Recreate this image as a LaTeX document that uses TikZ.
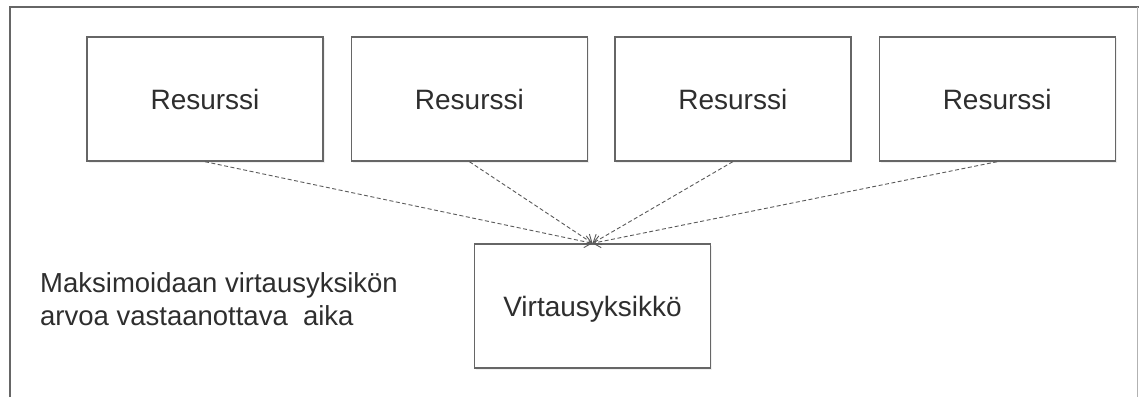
\documentclass[tikz,border=0pt]{standalone}
\usepackage{fontspec}
\setmainfont{Liberation Sans}
\usetikzlibrary{arrows.meta,positioning,shadows}
\definecolor{ink}{HTML}{2E2E2E}
\definecolor{edge}{HTML}{666666}

\begin{document}
\begin{tikzpicture}[x=1pt,y=1pt,font=\fontsize{28}{33}\selectfont,text=ink,
 box/.style={draw=edge,line width=1.4pt,fill=white,minimum width=236pt,minimum height=124pt,inner sep=0pt,
  drop shadow={opacity=0.12,shadow xshift=1.5pt,shadow yshift=-1.5pt}},
 arr/.style={-{Straight Barb[length=7pt,width=12pt,line width=0.9pt]},draw=black!65,line width=0.9pt,dash pattern=on 4pt off 2.5pt}]
\useasboundingbox (0,0) rectangle (1139,397);
% open frame around the figure
\draw[edge,line width=1.5pt] (10,0)--(10,390)--(1139,390);
\draw[black!30,line width=0.8pt] (1137,390)--(1137,0);
\node[box] (r1) at (205,298) {Resurssi};
\node[box,right=27pt of r1] (r2) {Resurssi};
\node[box,right=26pt of r2] (r3) {Resurssi};
\node[box,right=27pt of r3] (r4) {Resurssi};
\node[box,text depth=-2pt] (v) at (592.5,91) {Virtausyksikkö};
\node[anchor=west,align=left,inner sep=0pt,font=\fontsize{27.5}{33}\selectfont] (txt) at (40,98)
 {Maksimoidaan virtausyksikön\\arvoa vastaanottava~ aika};
\draw[arr] (r1.south)--(v.north);\draw[arr] (r2.south)--(v.north);
\draw[arr] (r3.south)--(v.north);\draw[arr] (r4.south)--(v.north);
\end{tikzpicture}
\end{document}
